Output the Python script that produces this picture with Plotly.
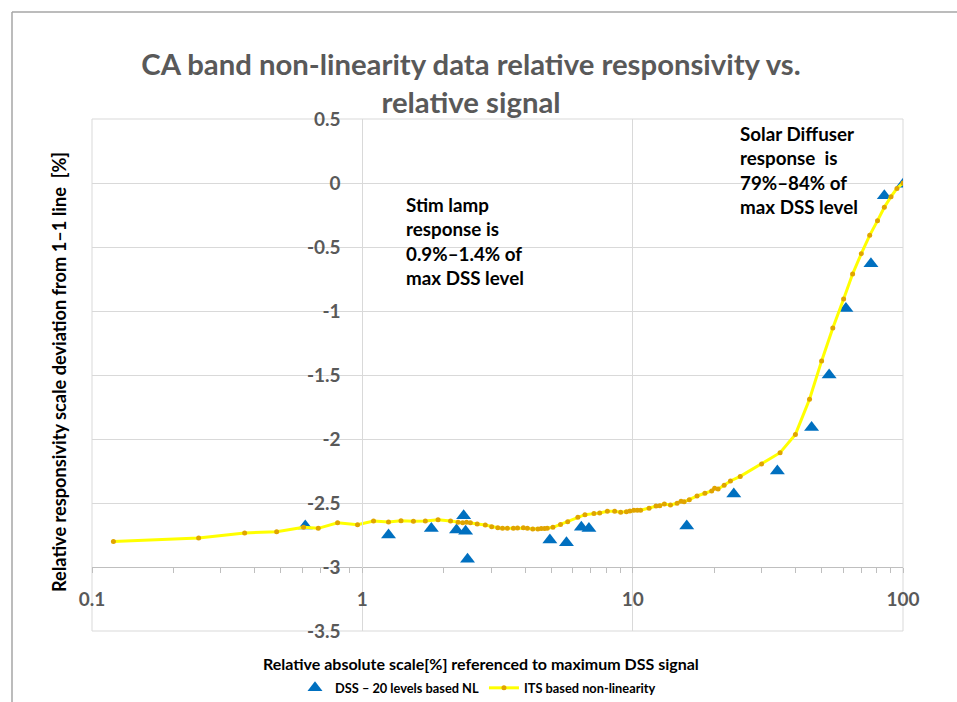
import plotly.graph_objects as go

# DSS - 20 levels based NL
dss_x = [0.615, 1.25, 1.80, 2.23, 2.37, 2.41, 2.45, 4.94, 5.69, 6.46, 6.89,
         15.85, 23.66, 34.3, 45.9, 53.3, 61.5, 76.1, 85.3, 100]
dss_y = [-2.68, -2.75, -2.70, -2.71, -2.60, -2.72, -2.94, -2.79, -2.81, -2.69, -2.70,
         -2.68, -2.43, -2.25, -1.91, -1.50, -0.98, -0.63, -0.10, -0.01]

# ITS based non-linearity
its_x = [0.12, 0.248, 0.367, 0.482, 0.606, 0.687, 0.81, 0.96, 1.10, 1.25,
         1.39, 1.545, 1.71, 1.906, 2.12, 2.26, 2.35, 2.43, 2.51, 2.66,
         2.85, 3.01, 3.17, 3.30, 3.44, 3.62, 3.75, 3.94, 4.08, 4.27,
         4.46, 4.59, 4.72, 4.83, 5.07, 5.41, 5.75, 6.27, 6.66, 7.19,
         7.55, 8.06, 8.58, 9.03, 9.48, 9.77, 10.1, 10.4, 10.7, 11.5,
         12.2, 12.6, 13.1, 13.8, 14.6, 15.1, 15.5, 16.2, 17.3, 18.5,
         19.6, 20.1, 20.7, 21.8, 23.0, 25.0, 30.0, 35.1, 40.0, 45.1,
         50.0, 55.0, 60.3, 65.1, 70.1, 75.3, 80.5, 85.3, 90.3, 95.0, 100.0]
its_y = [-2.80, -2.773, -2.734, -2.724, -2.69, -2.698, -2.654, -2.67, -2.64, -2.648,
         -2.638, -2.643, -2.641, -2.630, -2.641, -2.651, -2.654, -2.651, -2.654, -2.664,
         -2.672, -2.685, -2.693, -2.698, -2.698, -2.698, -2.695, -2.693, -2.698, -2.703,
         -2.703, -2.70, -2.70, -2.698, -2.69, -2.667, -2.646, -2.612, -2.591, -2.583,
         -2.578, -2.565, -2.565, -2.573, -2.568, -2.562, -2.557, -2.557, -2.557, -2.541,
         -2.523, -2.521, -2.508, -2.516, -2.502, -2.487, -2.49, -2.474, -2.445, -2.424,
         -2.406, -2.385, -2.39, -2.362, -2.328, -2.292, -2.195, -2.107, -1.964, -1.69,
         -1.39, -1.133, -0.906, -0.711, -0.552, -0.409, -0.294, -0.19, -0.107, -0.042, 0.0]

x_tickvals = [0.1, 1, 10, 100]
x_ticktext = ["0.1", "1", "10", "100"]
y_tickvals = [0.5, 0, -0.5, -1, -1.5, -2, -2.5, -3, -3.5]
y_ticktext = ["0.5", "0", "-0.5", "-1", "-1.5", "-2", "-2.5", "-3", "-3.5"]

FONT = "Lato, 'Open Sans', sans-serif"
GRID = "#D9D9D9"
LABEL = "#595959"

fig = go.Figure()
fig.add_trace(go.Scatter(
    x=dss_x, y=dss_y, mode="markers", name="DSS – 20 levels based NL",
    marker=dict(symbol="triangle-up", size=13, color="#0070C0"),
))
fig.add_trace(go.Scatter(
    x=its_x, y=its_y, mode="lines+markers", name="ITS based non-linearity",
    line=dict(color="#FFFF00", width=3),
    marker=dict(symbol="circle", size=5, color="#E0A400"),
))

fig.update_layout(
    width=957, height=702,
    margin=dict(l=92, r=54, t=119, b=71, autoexpand=False),
    paper_bgcolor="white", plot_bgcolor="white",
    font=dict(family=FONT, color="black"),
    title=dict(
        text="CA band non-linearity data relative responsivity vs.<br>relative signal",
        font=dict(family=FONT, size=29.3, color=LABEL, weight="bold"),
        x=(471 - 92) / 811, xref="paper", xanchor="center",
        y=1 - 75 / 702, yref="container", yanchor="top",
    ),
    xaxis=dict(
        type="log", range=[-1, 2],
        anchor="free", position=0.125,
        tickvals=x_tickvals, ticktext=x_ticktext,
        tickfont=dict(family=FONT, size=19, color=LABEL, weight="bold"),
        ticks="", ticklabelstandoff=15,
        showgrid=True, gridcolor=GRID, gridwidth=1,
        showline=True, linecolor="#BFBFBF", linewidth=1,
        zeroline=False,
        minor=dict(ticks="outside", ticklen=5, tickcolor="#BFBFBF", dtick="D1", showgrid=False),
    ),
    xaxis2=dict(
        type="log", range=[-1, 2], overlaying="x", matches="x",
        anchor="free", position=0.125,
        showticklabels=False, showgrid=False, showline=False, zeroline=False,
        tickvals=x_tickvals, ticks="",
        minor=dict(ticks="inside", ticklen=5, tickcolor="#BFBFBF", dtick="D1", showgrid=False),
    ),
    yaxis=dict(
        range=[-3.5, 0.5],
        anchor="free", position=1 / 3,
        tickvals=y_tickvals, ticktext=y_ticktext,
        tickfont=dict(family=FONT, size=19, color=LABEL, weight="bold"),
        ticks="", ticklabelstandoff=18,
        showgrid=True, gridcolor=GRID, gridwidth=1,
        showline=True, linecolor=GRID, linewidth=1,
        zeroline=False,
    ),
    legend=dict(
        orientation="h", x=(478 - 92) / 811, xanchor="center",
        y=(631 - 688) / 512, yanchor="middle",
        font=dict(family=FONT, size=12.8, color="black", weight="bold"),
        bgcolor="rgba(0,0,0,0)",
    ),
    showlegend=True,
)

# plot-area border and chart-area border
fig.add_shape(type="rect", xref="paper", yref="paper", x0=0, x1=1, y0=0, y1=1,
              line=dict(color=GRID, width=1), layer="below")
fig.add_shape(type="line", xref="paper", yref="paper",
              x0=(12 - 92) / 811, x1=(12 - 92) / 811, y0=(631 - 12) / 512, y1=(631 - 710) / 512,
              line=dict(color="#A6A6A6", width=1.5))
fig.add_shape(type="line", xref="paper", yref="paper",
              x0=(12 - 92) / 811, x1=(970 - 92) / 811, y0=(631 - 12) / 512, y1=(631 - 12) / 512,
              line=dict(color="#A6A6A6", width=1.5))

# axis titles
fig.add_annotation(
    text="Relative absolute scale[%] referenced to maximum DSS signal",
    xref="paper", yref="paper", x=(481 - 92) / 811, y=(631 - 663) / 512,
    xanchor="center", yanchor="middle", showarrow=False,
    font=dict(family=FONT, size=16, color="black", weight="bold"),
)
fig.add_annotation(
    text="Relative responsivity scale deviation from 1–1 line  [%]",
    xref="paper", yref="paper", x=(59 - 92) / 811, y=(631 - 372) / 512,
    xanchor="center", yanchor="middle", textangle=-90, showarrow=False,
    font=dict(family=FONT, size=18.2, color="black", weight="bold"),
)

# text boxes
fig.add_annotation(
    text="Stim lamp<br>response is<br>0.9%–1.4% of<br>max DSS level",
    xref="paper", yref="paper", x=(404 - 92) / 811, y=(631 - 191) / 512,
    xanchor="left", yanchor="top", align="left", showarrow=False,
    font=dict(family=FONT, size=18.8, color="black", weight="bold"),
)
fig.add_annotation(
    text="Solar Diffuser<br>response  is<br>79%–84% of<br>max DSS level",
    xref="paper", yref="paper", x=(738 - 92) / 811, y=(631 - 120) / 512,
    xanchor="left", yanchor="top", align="left", showarrow=False,
    font=dict(family=FONT, size=18.8, color="black", weight="bold"),
)

fig.write_html("out.html", config={"displayModeBar": False},
               post_script="document.body.style.margin='0';")
